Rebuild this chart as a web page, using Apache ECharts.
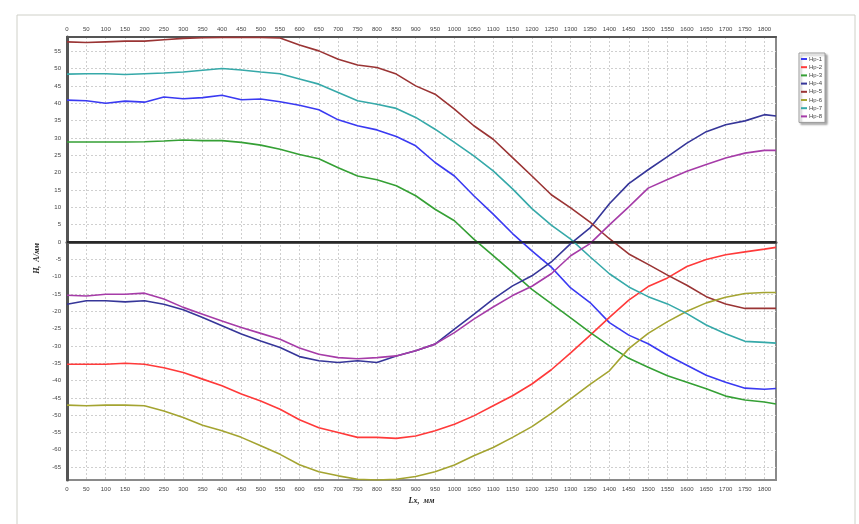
<!DOCTYPE html>
<html>
<head>
<meta charset="utf-8">
<script src="https://cdn.jsdelivr.net/npm/echarts@6/dist/echarts.min.js"></script>
<style>
  html, body { margin: 0; padding: 0; background: #ffffff; }
  #chart { width: 859px; height: 524px; }
</style>
</head>
<body>
<div id="chart"></div>
<script>
// Position along the sensor path, mm
const lx = [0, 50, 100, 150, 200, 250, 300, 350, 400, 450, 500, 550, 600, 650, 700, 750, 800, 850, 900,
            950, 1000, 1050, 1100, 1150, 1200, 1250, 1300, 1350, 1400, 1450, 1500, 1550, 1600, 1650, 1700,
            1750, 1800, 1830];

// Field strength H, A/mm for each probe
const hp1 = [40.9, 40.7, 40.0, 40.6, 40.3, 41.8, 41.3, 41.6, 42.3, 41.0, 41.2, 40.4, 39.4, 38.1, 35.2, 33.5, 32.3, 30.4, 27.7,
             22.9, 19.0, 13.3, 8.0, 2.4, -2.6, -7.3, -13.3, -17.5, -23.3, -26.9, -29.4, -32.7, -35.6, -38.5, -40.5,
             -42.2, -42.5, -42.3];
const hp2 = [-35.3, -35.3, -35.3, -35.0, -35.3, -36.3, -37.7, -39.6, -41.5, -43.9, -45.9, -48.3, -51.3, -53.6, -55.0, -56.4, -56.4, -56.7, -56.0,
             -54.5, -52.6, -50.2, -47.3, -44.4, -41.0, -36.9, -32.0, -27.0, -21.8, -16.8, -12.9, -10.4, -7.1, -5.1, -3.7,
             -2.9, -2.1, -1.6];
const hp3 = [28.8, 28.8, 28.8, 28.8, 28.9, 29.1, 29.4, 29.2, 29.2, 28.7, 27.9, 26.7, 25.2, 24.0, 21.4, 19.0, 17.9, 16.2, 13.3,
             9.4, 6.1, 0.8, -4.0, -8.8, -13.7, -17.8, -21.9, -26.1, -30.0, -33.6, -36.2, -38.6, -40.5, -42.4, -44.5,
             -45.6, -46.2, -46.8];
const hp4 = [-18.0, -17.0, -17.0, -17.3, -17.0, -18.0, -19.6, -21.8, -24.2, -26.6, -28.6, -30.5, -33.1, -34.3, -34.8, -34.3, -34.8, -32.9, -31.4,
             -29.5, -25.2, -20.9, -16.5, -12.7, -9.8, -5.8, -0.5, 4.0, 11.0, 16.8, 20.8, 24.6, 28.5, 31.8, 33.8,
             34.9, 36.7, 36.3];
const hp5 = [57.7, 57.5, 57.7, 57.9, 57.9, 58.3, 58.7, 58.9, 59.0, 59.0, 59.0, 58.8, 56.8, 55.1, 52.7, 51.0, 50.3, 48.4, 45.0,
             42.6, 38.3, 33.5, 29.6, 24.3, 19.0, 13.6, 9.8, 5.7, 0.9, -3.5, -6.5, -9.6, -12.5, -15.8, -17.9,
             -19.2, -19.2, -19.2];
const hp6 = [-47.1, -47.3, -47.1, -47.1, -47.3, -48.8, -50.7, -52.9, -54.5, -56.4, -58.8, -61.3, -64.3, -66.3, -67.5, -68.5, -68.7, -68.5, -67.7,
             -66.3, -64.4, -61.7, -59.3, -56.4, -53.3, -49.5, -45.3, -41.1, -37.2, -30.8, -26.4, -23.0, -20.0, -17.6, -16.0,
             -14.9, -14.6, -14.6];
const hp7 = [48.4, 48.5, 48.5, 48.3, 48.5, 48.7, 49.0, 49.5, 50.0, 49.6, 49.0, 48.5, 47.0, 45.5, 43.1, 40.7, 39.7, 38.5, 35.9,
             32.5, 28.7, 24.8, 20.5, 15.3, 9.6, 4.8, 0.8, -4.3, -9.2, -13.0, -15.8, -17.9, -20.7, -24.0, -26.5,
             -28.7, -29.0, -29.2];
const hp8 = [-15.4, -15.6, -15.1, -15.1, -14.8, -16.5, -18.9, -20.9, -22.8, -24.7, -26.4, -28.1, -30.6, -32.4, -33.4, -33.7, -33.4, -32.9, -31.4,
             -29.5, -26.2, -22.3, -18.8, -15.5, -12.8, -9.2, -4.0, -0.5, 4.9, 10.1, 15.5, 18.0, 20.4, 22.3, 24.2,
             25.6, 26.4, 26.4];

const seriesNames = ['Hp-1', 'Hp-2', 'Hp-3', 'Hp-4', 'Hp-5', 'Hp-6', 'Hp-7', 'Hp-8'];
const seriesValues = [hp1, hp2, hp3, hp4, hp5, hp6, hp7, hp8];
const seriesColors = ['#3a3af2', '#ff3a3a', '#35a035', '#363699', '#9a3434', '#a4a431', '#36a9a9', '#a63ca8'];

// Tick labels
const xTicks = [];
for (let v = 0; v <= 1800; v += 50) xTicks.push(v);
const yTicks = [55, 50, 45, 40, 35, 30, 25, 20, 15, 10, 5, 0, -5, -10, -15, -20, -25, -30, -35, -40, -45, -50, -55, -60, -65];

const labelStyle = { fontSize: 6, color: '#444', fontFamily: 'Liberation Sans', formatter: v => String(v) };
const nameStyle = { fontFamily: 'Liberation Serif', fontStyle: 'italic', fontWeight: 'bold', fontSize: 8, color: '#222' };
const gridLine = { show: true, lineStyle: { color: '#cfcfcf', width: 1, type: [2, 2] } };

const series = seriesNames.map((name, i) => ({
  name: name,
  type: 'line',
  showSymbol: false,
  symbol: 'none',
  smooth: false,
  lineStyle: { width: 1.6, color: seriesColors[i] },
  itemStyle: { color: seriesColors[i] },
  data: lx.map((x, k) => [x, seriesValues[i][k]]),
  z: 3
}));

// Zero reference line
series[0].markLine = {
  silent: true,
  symbol: 'none',
  label: { show: false },
  lineStyle: { color: '#1a1a1a', width: 1.5, type: 'solid' },
  data: [{ yAxis: 0 }]
};

const chart = echarts.init(document.getElementById('chart'), null, { renderer: 'canvas' });
chart.setOption({
  animation: false,
  backgroundColor: '#ffffff',
  graphic: [{
    type: 'rect',
    shape: { x: 17, y: 15, width: 838, height: 520 },
    style: { fill: 'none', stroke: '#cfd0c8', lineWidth: 1 },
    z: -1
  }],
  grid: {
    left: 67, right: 83, top: 37, bottom: 44,
    show: true, borderColor: '#8a8a8a', borderWidth: 2
  },
  legend: {
    orient: 'vertical',
    left: 799, top: 53,
    icon: 'rect',
    itemWidth: 6, itemHeight: 2,
    itemGap: 2.2,
    padding: [3, 3, 3, 2],
    backgroundColor: '#ffffff',
    borderColor: '#9a9a9a', borderWidth: 1,
    shadowColor: 'rgba(0,0,0,0.35)', shadowBlur: 2, shadowOffsetX: 2, shadowOffsetY: 2,
    textStyle: { fontSize: 6, lineHeight: 6, color: '#444', padding: [0, 0, 0, -3] },
    data: seriesNames
  },
  xAxis: [{
    type: 'value', position: 'bottom', min: 0, max: 1830,
    name: 'Lx,  мм', nameLocation: 'middle', nameGap: 17, nameTextStyle: nameStyle,
    axisLine: { show: true, lineStyle: { color: '#555', width: 3 } },
    axisTick: { show: false, customValues: xTicks },
    axisLabel: { customValues: xTicks, margin: 6, ...labelStyle },
    splitLine: gridLine
  }, {
    type: 'value', position: 'top', min: 0, max: 1830,
    axisLine: { show: true, lineStyle: { color: '#555', width: 2 } },
    axisTick: { show: false, customValues: xTicks },
    axisLabel: { customValues: xTicks, margin: 5, ...labelStyle },
    splitLine: { show: false }
  }],
  yAxis: {
    type: 'value', min: -68.7, max: 59.1,
    name: 'H,  A/мм', nameLocation: 'middle', nameGap: 21, nameRotate: 90, nameTextStyle: nameStyle,
    axisLine: { show: true, lineStyle: { color: '#555', width: 3 } },
    axisTick: { show: false, customValues: yTicks },
    axisLabel: { customValues: yTicks, margin: 6, ...labelStyle },
    splitLine: gridLine
  },
  series: series
});
</script>
</body>
</html>
